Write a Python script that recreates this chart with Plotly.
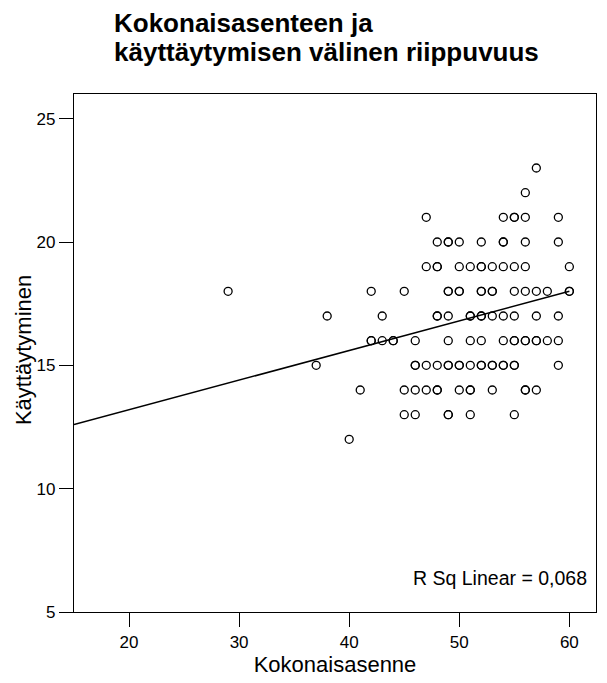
import plotly.graph_objects as go

# Kokonaisasenne (x) and Käyttäytyminen (y) scores for each respondent
kokonaisasenne = [
    57,
    56,
    47, 54, 55, 55, 56, 59,
    48, 49, 49, 50, 52, 54, 54, 56, 59,
    47, 48, 48, 50, 51, 52, 52, 53, 54, 55, 56, 60,
    29, 42, 45, 49, 49, 50, 50, 52, 52, 53, 53, 55, 56, 57, 58, 60, 60,
    38, 43, 48, 48, 49, 51, 51, 52, 52, 53, 54, 55, 57, 59,
    42, 42, 43, 44, 44, 46, 49, 51, 52, 54, 55, 55, 56, 56, 57, 57, 58, 59,
    37, 46, 46, 47, 48, 49, 49, 50, 50, 51, 52, 52, 53, 53, 54, 54, 55, 55, 59,
    41, 45, 46, 47, 48, 48, 50, 51, 51, 53, 56, 56, 57,
    45, 46, 49, 49, 51, 55,
    40,
]
kayttaytyminen = (
    [23] * 1 + [22] * 1 + [21] * 6 + [20] * 9 + [19] * 12 + [18] * 17
    + [17] * 14 + [16] * 18 + [15] * 19 + [14] * 13 + [13] * 6 + [12] * 1
)

# Linear fit line (Käyttäytyminen = a + b * Kokonaisasenne)
FIT_INTERCEPT = 10.8
FIT_SLOPE = 0.12
R_SQ_LINEAR = 0.068

X_RANGE = [15, 62.42]
Y_RANGE = [5, 26.0]
X_TICKS = [20, 30, 40, 50, 60]
Y_TICKS = [5, 10, 15, 20, 25]

TITLE_LINES = ["Kokonaisasenteen ja", "käyttäytymisen välinen riippuvuus"]

FONT = "Arial, Liberation Sans, sans-serif"
W, H = 607, 683
M = dict(l=74, r=10, t=94, b=67)

fit_x = [X_RANGE[0], max(kokonaisasenne)]
fit_y = [FIT_INTERCEPT + FIT_SLOPE * v for v in fit_x]

fig = go.Figure()
fig.add_trace(go.Scatter(
    x=kokonaisasenne, y=kayttaytyminen, mode="markers",
    marker=dict(symbol="circle-open", size=8, color="black",
                line=dict(width=1.3, color="black")),
    showlegend=False, hoverinfo="x+y",
))
fig.add_trace(go.Scatter(
    x=fit_x, y=fit_y, mode="lines",
    line=dict(color="black", width=1.5),
    showlegend=False, hoverinfo="skip",
))

axis_common = dict(
    showline=True, mirror=True, linecolor="black", linewidth=1.3,
    ticks="outside", ticklen=14, tickwidth=1.3, tickcolor="black",
    showgrid=False, zeroline=False,
    tickfont=dict(family=FONT, size=17, color="black"),
)

plot_w = W - M["l"] - M["r"]
plot_h = H - M["t"] - M["b"]


def px_to_paper_x(px):
    return (px - M["l"]) / plot_w


def px_to_paper_y(py):
    return (H - M["b"] - py) / plot_h


annotations = []
# two-line bold title, left aligned
for i, line in enumerate(TITLE_LINES):
    annotations.append(dict(
        text=f"<b>{line}</b>", xref="paper", yref="paper",
        x=px_to_paper_x(112), y=px_to_paper_y(22 + 30 * i),
        xanchor="left", yanchor="middle", showarrow=False,
        font=dict(family=FONT, size=26, color="black"),
    ))
# y axis title
annotations.append(dict(
    text="Käyttäytyminen", xref="paper", yref="paper",
    x=px_to_paper_x(23), y=px_to_paper_y(352),
    xanchor="center", yanchor="middle", textangle=-90, showarrow=False,
    font=dict(family=FONT, size=22, color="black"),
))
# fit statistic inside the plot
annotations.append(dict(
    text=f"R Sq Linear = {R_SQ_LINEAR:.3f}".replace(".", ","),
    xref="paper", yref="paper", x=px_to_paper_x(590), y=px_to_paper_y(582),
    xanchor="right", yanchor="middle", showarrow=False,
    font=dict(family=FONT, size=19.5, color="black"),
))

fig.update_layout(
    width=W, height=H,
    margin=M,
    paper_bgcolor="white", plot_bgcolor="white",
    xaxis=dict(range=X_RANGE, tickvals=X_TICKS,
               title=dict(text="Kokonaisasenne", standoff=6,
                          font=dict(family=FONT, size=22, color="black")),
               **axis_common),
    yaxis=dict(range=Y_RANGE, tickvals=Y_TICKS, **axis_common),
    annotations=annotations,
)

fig.write_html("out.html")
